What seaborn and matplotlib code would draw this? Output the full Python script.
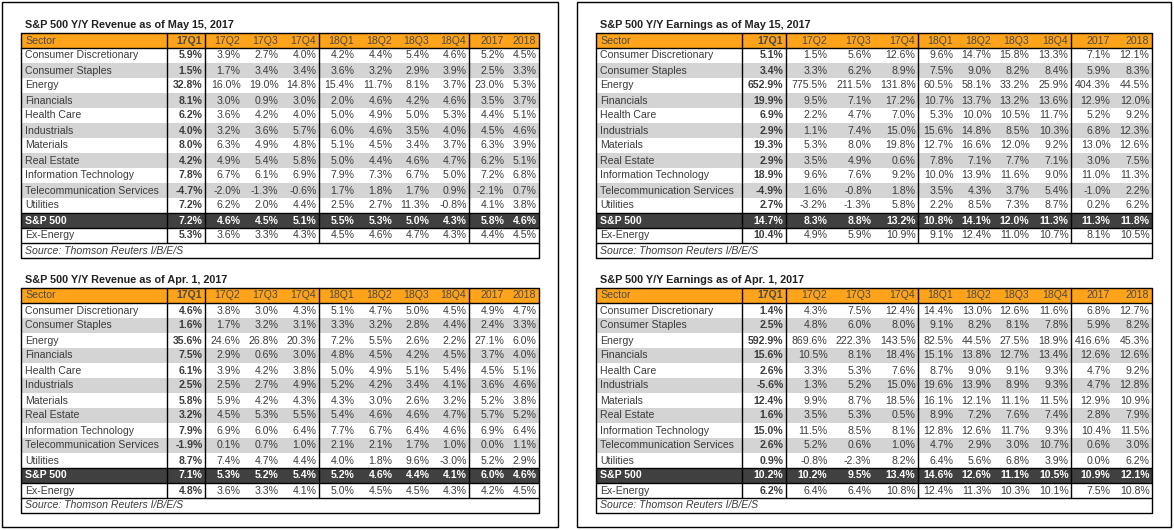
import numpy as np
import seaborn as sns
import matplotlib.pyplot as plt
from matplotlib.patches import Rectangle

# Datos de las tablas
sectores = ["Consumer Discretionary", "Consumer Staples", "Energy", "Financials",
            "Health Care", "Industrials", "Materials", "Real Estate",
            "Information Technology", "Telecommunication Services", "Utilities",
            "S&P 500", "Ex-Energy"]
columnas = ["17Q1", "17Q2", "17Q3", "17Q4", "18Q1", "18Q2", "18Q3", "18Q4", "2017", "2018"]
fuente = "Source: Thomson Reuters I/B/E/S"

titulo_ingresos_may = "S&P 500 Y/Y Revenue as of May 15, 2017"
ingresos_may = [
    [5.9, 3.9, 2.7, 4.0, 4.2, 4.4, 5.4, 4.6, 5.2, 4.5],
    [1.5, 1.7, 3.4, 3.4, 3.6, 3.2, 2.9, 3.9, 2.5, 3.3],
    [32.8, 16.0, 19.0, 14.8, 15.4, 11.7, 8.1, 3.7, 23.0, 5.3],
    [8.1, 3.0, 0.9, 3.0, 2.0, 4.6, 4.2, 4.6, 3.5, 3.7],
    [6.2, 3.6, 4.2, 4.0, 5.0, 4.9, 5.0, 5.3, 4.4, 5.1],
    [4.0, 3.2, 3.6, 5.7, 6.0, 4.6, 3.5, 4.0, 4.5, 4.6],
    [8.0, 6.3, 4.9, 4.8, 5.1, 4.5, 3.4, 3.7, 6.3, 3.9],
    [4.2, 4.9, 5.4, 5.8, 5.0, 4.4, 4.6, 4.7, 6.2, 5.1],
    [7.8, 6.7, 6.1, 6.9, 7.9, 7.3, 6.7, 5.0, 7.2, 6.8],
    [-4.7, -2.0, -1.3, -0.6, 1.7, 1.8, 1.7, 0.9, -2.1, 0.7],
    [7.2, 6.2, 2.0, 4.4, 2.5, 2.7, 11.3, -0.8, 4.1, 3.8],
    [7.2, 4.6, 4.5, 5.1, 5.5, 5.3, 5.0, 4.3, 5.8, 4.6],
    [5.3, 3.6, 3.3, 4.3, 4.5, 4.6, 4.7, 4.3, 4.4, 4.5],
]

titulo_ganancias_may = "S&P 500 Y/Y Earnings as of May 15, 2017"
ganancias_may = [
    [5.1, 1.5, 5.6, 12.6, 9.6, 14.7, 15.8, 13.3, 7.1, 12.1],
    [3.4, 3.3, 6.2, 8.9, 7.5, 9.0, 8.2, 8.4, 5.9, 8.3],
    [652.9, 775.5, 211.5, 131.8, 60.5, 58.1, 33.2, 25.9, 404.3, 44.5],
    [19.9, 9.5, 7.1, 17.2, 10.7, 13.7, 13.2, 13.6, 12.9, 12.0],
    [6.9, 2.2, 4.7, 7.0, 5.3, 10.0, 10.5, 11.7, 5.2, 9.2],
    [2.9, 1.1, 7.4, 15.0, 15.6, 14.8, 8.5, 10.3, 6.8, 12.3],
    [19.3, 5.3, 8.0, 19.8, 12.7, 16.6, 12.0, 9.2, 13.0, 12.6],
    [2.9, 3.5, 4.9, 0.6, 7.8, 7.1, 7.7, 7.1, 3.0, 7.5],
    [18.9, 9.6, 7.6, 9.2, 10.0, 13.9, 11.6, 9.0, 11.0, 11.3],
    [-4.9, 1.6, -0.8, 1.8, 3.5, 4.3, 3.7, 5.4, -1.0, 2.2],
    [2.7, -3.2, -1.3, 5.8, 2.2, 8.5, 7.3, 8.7, 0.2, 6.2],
    [14.7, 8.3, 8.8, 13.2, 10.8, 14.1, 12.0, 11.3, 11.3, 11.8],
    [10.4, 4.9, 5.9, 10.9, 9.1, 12.4, 11.0, 10.7, 8.1, 10.5],
]

titulo_ingresos_abr = "S&P 500 Y/Y Revenue as of Apr. 1, 2017"
ingresos_abr = [
    [4.6, 3.8, 3.0, 4.3, 5.1, 4.7, 5.0, 4.5, 4.9, 4.7],
    [1.6, 1.7, 3.2, 3.1, 3.3, 3.2, 2.8, 4.4, 2.4, 3.3],
    [35.6, 24.6, 26.8, 20.3, 7.2, 5.5, 2.6, 2.2, 27.1, 6.0],
    [7.5, 2.9, 0.6, 3.0, 4.8, 4.5, 4.2, 4.5, 3.7, 4.0],
    [6.1, 3.9, 4.2, 3.8, 5.0, 4.9, 5.1, 5.4, 4.5, 5.1],
    [2.5, 2.5, 2.7, 4.9, 5.2, 4.2, 3.4, 4.1, 3.6, 4.6],
    [5.8, 5.9, 4.2, 4.3, 4.3, 3.0, 2.6, 3.2, 5.2, 3.8],
    [3.2, 4.5, 5.3, 5.5, 5.4, 4.6, 4.6, 4.7, 5.7, 5.2],
    [7.9, 6.9, 6.0, 6.4, 7.7, 6.7, 6.4, 4.6, 6.9, 6.4],
    [-1.9, 0.1, 0.7, 1.0, 2.1, 2.1, 1.7, 1.0, 0.0, 1.1],
    [8.7, 7.4, 4.7, 4.4, 4.0, 1.8, 9.6, -3.0, 5.2, 2.9],
    [7.1, 5.3, 5.2, 5.4, 5.2, 4.6, 4.4, 4.1, 6.0, 4.6],
    [4.8, 3.6, 3.3, 4.1, 5.0, 4.5, 4.5, 4.3, 4.2, 4.5],
]

titulo_ganancias_abr = "S&P 500 Y/Y Earnings as of Apr. 1, 2017"
ganancias_abr = [
    [1.4, 4.3, 7.5, 12.4, 14.4, 13.0, 12.6, 11.6, 6.8, 12.7],
    [2.5, 4.8, 6.0, 8.0, 9.1, 8.2, 8.1, 7.8, 5.9, 8.2],
    [592.9, 869.6, 222.3, 143.5, 82.5, 44.5, 27.5, 18.9, 416.6, 45.3],
    [15.6, 10.5, 8.1, 18.4, 15.1, 13.8, 12.7, 13.4, 12.6, 12.6],
    [2.6, 3.3, 5.3, 7.6, 8.7, 9.0, 9.1, 9.3, 4.7, 9.2],
    [-5.6, 1.3, 5.2, 15.0, 19.6, 13.9, 8.9, 9.3, 4.7, 12.8],
    [12.4, 9.9, 8.7, 18.5, 16.1, 12.1, 11.1, 11.5, 12.9, 10.9],
    [1.6, 3.5, 5.3, 0.5, 8.9, 7.2, 7.6, 7.4, 2.8, 7.9],
    [15.0, 11.5, 8.5, 8.1, 12.8, 12.6, 11.7, 9.3, 10.4, 11.5],
    [2.6, 5.2, 0.6, 1.0, 4.7, 2.9, 3.0, 10.7, 0.6, 3.0],
    [0.9, -0.8, -2.3, 8.2, 6.4, 5.6, 6.8, 3.9, 0.0, 6.2],
    [10.2, 10.2, 9.5, 13.4, 14.6, 12.6, 11.1, 10.5, 10.9, 12.1],
    [6.2, 6.4, 6.4, 10.8, 12.4, 11.3, 10.3, 10.1, 7.5, 10.8],
]

# Estilo general
sns.set_theme(style="white")
plt.rcParams['font.family'] = ['Liberation Sans', 'DejaVu Sans']

NARANJA = '#ffa31a'
GRIS = '#d4d4d4'
OSCURO = '#404040'
TEXTO = '#3c3c3c'
FS = 7.6
ALTO = 15

# Bordes de columnas (px) para tablas izquierda y derecha
bordes_izq = [21, 167, 205, 243, 281, 319, 357, 395, 432, 469, 507, 539]
bordes_der = [596, 742, 786, 830, 874, 918, 956, 994, 1032, 1071, 1113, 1152]


def dibujar_tabla(ax, bordes, y0, titulo, valores):
    x0, x1 = bordes[0], bordes[-1]
    ax.text(x0 + 4, y0 - 8, titulo, fontsize=FS + 0.2, fontweight='bold', color='#222222',
            ha='left', va='center')
    # encabezado
    ax.add_patch(Rectangle((x0, y0), x1 - x0, ALTO, facecolor=NARANJA, edgecolor='none'))
    ax.text(x0 + 4, y0 + ALTO / 2, "Sector", fontsize=FS, color='#4a4a4a', ha='left', va='center')
    for j, col in enumerate(columnas):
        ax.text(bordes[j + 2] - 3, y0 + ALTO / 2, col, fontsize=FS, color='#4a4a4a',
                ha='right', va='center', fontweight='bold' if j == 0 else 'normal')
    # filas
    for i, nombre in enumerate(sectores):
        yt = y0 + ALTO * (i + 1)
        es_sp = nombre == "S&P 500"
        if es_sp:
            fondo = OSCURO
        elif i % 2 == 1 and i < 11:
            fondo = GRIS
        else:
            fondo = None
        if fondo:
            ax.add_patch(Rectangle((x0, yt), x1 - x0, ALTO, facecolor=fondo, edgecolor='none'))
        color = 'white' if es_sp else TEXTO
        ax.text(x0 + 4, yt + ALTO / 2, nombre, fontsize=FS, color=color, ha='left', va='center',
                fontweight='bold' if es_sp else 'normal')
        for j, v in enumerate(valores[i]):
            ax.text(bordes[j + 2] - 2.5, yt + ALTO / 2, f"{v:.1f}%", fontsize=FS, color=color,
                    ha='right', va='center',
                    fontweight='bold' if (es_sp or j == 0) else 'normal')
    # fila fuente
    yf = y0 + ALTO * 14
    ax.text(x0 + 4, yf + ALTO / 2, fuente, fontsize=FS, color=TEXTO, ha='left', va='center',
            style='italic')
    # lineas
    kw = dict(color='black', lw=1)
    ax.plot([x0, x1, x1, x0, x0], [y0, y0, yf + ALTO, yf + ALTO, y0], **kw)
    for yy in [y0 + ALTO, y0 + ALTO * 12, y0 + ALTO * 13, yf]:
        ax.plot([x0, x1], [yy, yy], **kw)
    for k in [1, 2, 5, 9]:
        ax.plot([bordes[k], bordes[k]], [y0, yf], **kw)


fig = plt.figure(figsize=(11.74, 5.30), dpi=100)
ax = fig.add_axes([0, 0, 1, 1])
ax.set_xlim(0, 1174)
ax.set_ylim(530, 0)
ax.axis('off')

# marcos de los paneles
ax.add_patch(Rectangle((2, 2), 556, 525, facecolor='none', edgecolor='black', lw=1))
ax.add_patch(Rectangle((577, 2), 594, 525, facecolor='none', edgecolor='black', lw=1))

dibujar_tabla(ax, bordes_izq, 33, titulo_ingresos_may, ingresos_may)
dibujar_tabla(ax, bordes_der, 33, titulo_ganancias_may, ganancias_may)
dibujar_tabla(ax, bordes_izq, 288, titulo_ingresos_abr, ingresos_abr)
dibujar_tabla(ax, bordes_der, 288, titulo_ganancias_abr, ganancias_abr)

fig.savefig("out.png", dpi=100)
